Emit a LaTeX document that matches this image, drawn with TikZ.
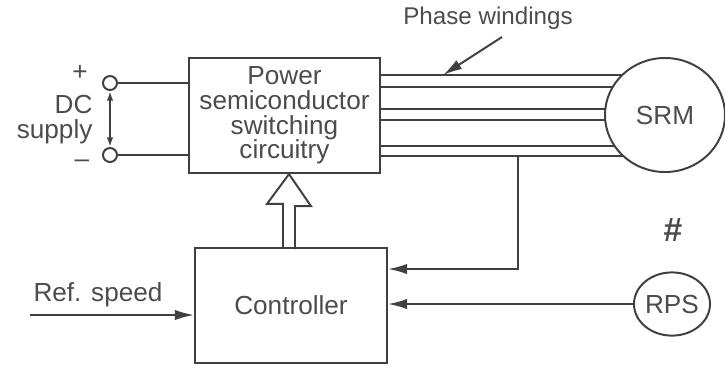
\documentclass[tikz,border=0pt]{standalone}
\usepackage{fontspec}
\setmainfont{Liberation Sans}
\usepackage{tikz}
\usetikzlibrary{positioning,arrows.meta,calc,backgrounds,shapes.geometric}
\tikzset{
  blockbox/.style={draw=black!75, line width=0.7pt, align=center, text=black!70,
    font=\fontsize{9.3}{8.8}\selectfont, inner sep=2pt, fill=white},
  motor/.style={ellipse, draw=black!75, line width=0.7pt, inner sep=0pt,
    text=black!70, font=\fontsize{9.3}{11}\selectfont, fill=white},
  terminal/.style={circle, draw=black!75, line width=0.7pt, minimum size=0.175cm,
    inner sep=0pt, fill=white},
  wire/.style={draw=black!75, line width=0.7pt},
  sigarrow/.style={wire, -{Latex[length=2.4mm,width=1.3mm]}},
  hollowarrow/.style={wire, line join=miter},
  sidelabel/.style={text=black!70, font=\fontsize{9.3}{8.8}\selectfont, inner sep=0pt},
}

\begin{document}
\begin{tikzpicture}[x=0.0125cm, y=-0.0125cm]
  \useasboundingbox (0,0) rectangle (725,368);
  % power stage and motor
  \node[blockbox, minimum width=2.39cm, minimum height=1.44cm] (psc) at (284.5,115.5) {Power\\semiconductor\\switching\\circuitry};
  \node[motor, minimum width=1.5cm, minimum height=1.425cm] (srm) at (665,115) {SRM};
  \begin{scope}[on background layer]
    \foreach \py in {75,87,109,120,146,156}
      \draw[wire] (psc.east |- 0,\py) -- (srm.center |- 0,\py);
  \end{scope}
  \node[sidelabel, font=\fontsize{8.6}{10}\selectfont] (phw) at (488,18) {Phase windings};
  \coordinate (phfrom) at (502,37);
  \coordinate (phtip) at (443,75);
  \draw[sigarrow] (phfrom) -- (phtip);
  % DC supply
  \node[terminal] (tp) at (110,83) {};
  \node[terminal] (tm) at (110,155) {};
  \draw[wire] (tp) -- (psc.west |- tp);
  \draw[wire] (tm) -- (psc.west |- tm);
  \draw[wire, {Latex[length=1.2mm,width=0.8mm]}-{Latex[length=1.2mm,width=0.8mm]}] (tp) -- (tm);
  \node[sidelabel] (plus) at (80,73) {+};
  \node[sidelabel, align=right, anchor=east] (dc) at (93,119.5) {DC\\supply};
  \node[sidelabel] (minus) at (82,164) {--};
  % controller and feedback
  \node[blockbox, minimum width=2.4cm, minimum height=1.44cm] (ctrl) at (291,305.5) {Controller};
  \node[motor, minimum width=0.94cm, minimum height=0.79cm] (rps) at (672,304) {RPS};
  \node[sidelabel, font=\bfseries\fontsize{12}{14}\selectfont] (hash) at (673,230) {\#};
  \coordinate (hbot) at (ctrl.north -| 289,0);
  \coordinate (htop) at (psc.south -| 289,0);
  \draw[hollowarrow] (hbot) ++(-6,0) -- ++(0,-43) -- ++(-16,0) -- (htop) -- ++(22,32) -- ++(-16,0) -- ++(0,43);
  \coordinate (refin) at (30,315);
  \draw[sigarrow] (refin) -- (ctrl.west |- refin);
  \node[sidelabel] (refl) at (98,295) {Ref. speed};
  \coordinate (fbtap) at (518,156);
  \draw[sigarrow] (fbtap) |- (ctrl.east |- 0,269);
  \draw[sigarrow] (rps) -- (ctrl.east |- rps);
\end{tikzpicture}
\end{document}
